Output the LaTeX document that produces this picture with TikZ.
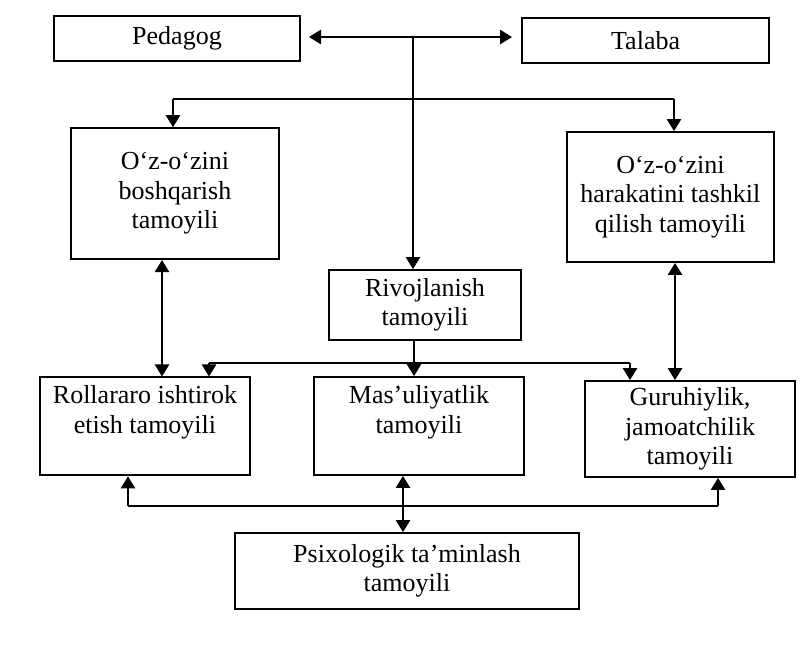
\documentclass[tikz,border=0pt]{standalone}
\usepackage{fontspec}
\setmainfont{Liberation Serif}
\usetikzlibrary{arrows.meta}

\begin{document}
\begin{tikzpicture}[box/.style={draw,line width=1.4pt,align=center,inner sep=0pt,
    font=\fontsize{18.5}{21}\selectfont},
  topbox/.style={minimum height=2.45cm,text height=1.4cm,text depth=1.05cm},
  link/.style={line width=1.1pt},
  >={Triangle[width=0.36cm,length=0.3cm]}]
  \useasboundingbox (0,0) rectangle (20.275,-16.3);
  \node[box,minimum width=6.15cm,minimum height=1.125cm](1) at (4.425,-0.9625){Pedagog};
  \node[box,minimum width=6.175cm,minimum height=1.125cm](2) at (16.14,-1.01){Talaba};
  \node[box,minimum width=5.2cm,minimum height=3.275cm](3) at (4.375,-4.84){O‘z-o‘zini\\boshqarish\\tamoyili};
  \node[box,minimum width=5.175cm,minimum height=3.25cm](4) at (16.76,-4.925){O‘z-o‘zini\\harakatini tashkil\\qilish tamoyili};
  \node[box,minimum width=4.8cm,minimum height=1.75cm](5) at (10.625,-7.625){Rivojlanish\\tamoyili};
  \node[box,topbox,minimum width=5.25cm](6) at (3.625,-10.66){Rollararo ishtirok\\etish tamoyili};
  \node[box,topbox,minimum width=5.25cm](7) at (10.475,-10.65){Mas’uliyatlik\\tamoyili};
  \node[box,minimum width=5.25cm,minimum height=2.4cm](8) at (17.25,-10.725){Guruhiylik,\\jamoatchilik\\tamoyili};
  \node[box,minimum width=8.6cm,minimum height=1.9cm](9) at (10.175,-14.275){Psixologik ta’minlash\\tamoyili};
  \coordinate(10) at (7.725,-0.925);
  \coordinate(11) at (12.8,-0.925);
  \coordinate(12) at (10.325,-0.925);
  \coordinate(13) at (4.325,-2.475);
  \coordinate(14) at (16.85,-2.475);
  \coordinate(15) at (4.05,-8);
  \coordinate(16) at (16.875,-8);
  \coordinate(17) at (10.35,-9.075);
  \coordinate(18) at (5.225,-9.075);
  \coordinate(19) at (15.75,-9.075);
  \coordinate(20) at (3.2,-12.65);
  \coordinate(21) at (17.95,-12.65);
  \coordinate(22) at (10.075,-12);
  \draw[link,<->](10)--(11);
  \draw[link,->](12)--(12 |- 5.north);
  \draw[link](13)--(14);
  \draw[link,->](13)--(13 |- 3.north);
  \draw[link,->](14)--(14 |- 4.north);
  \draw[link,<->](15 |- 3.south)--(15 |- 6.north);
  \draw[link,<->](16 |- 4.south)--(16 |- 8.north);
  \draw[link,->](17 |- 5.south)--(17 |- 7.north);
  \draw[link](18)--(19);
  \draw[link,->](18)--(18 |- 6.north);
  \draw[link,->](19)--(19 |- 8.north);
  \draw[link](20)--(21);
  \draw[link,->](20)--(20 |- 6.south);
  \draw[link,->](21)--(21 |- 8.south);
  \draw[link,<->](22 |- 7.south)--(22 |- 9.north);
\end{tikzpicture}
\end{document}
